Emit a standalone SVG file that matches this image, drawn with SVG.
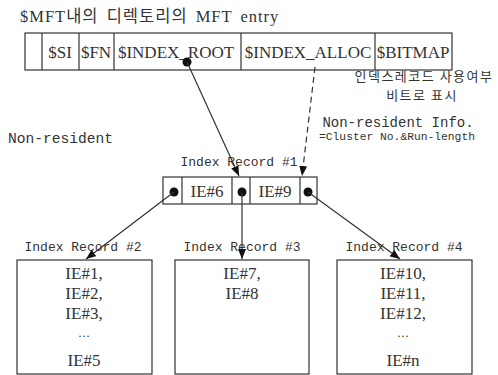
<svg xmlns="http://www.w3.org/2000/svg" width="498" height="375" viewBox="0 0 498 375">
<style>
.box{fill:#fff;stroke:#333;stroke-width:1.2}
.ln{stroke:#333;stroke-width:1.2;fill:none}
.dash{stroke-dasharray:6 4}
.serif{font-family:"Liberation Serif","Noto Sans CJK KR",serif;fill:#333}
.mono{font-family:"Liberation Mono","Noto Sans CJK KR",monospace;fill:#333}
.kr{font-family:"Noto Sans CJK KR",sans-serif;fill:#333}
.dot{fill:#111}
</style>
<defs>
<marker id="ah" viewBox="0 0 10 8" refX="10" refY="4" markerWidth="10" markerHeight="8" markerUnits="userSpaceOnUse" orient="auto">
<path d="M0,0 L10,4 L0,8 Z" fill="#111"/>
</marker>
</defs>
<rect width="498" height="375" fill="#fff"/>
<text class="serif" x="20" y="22" font-size="16.5" letter-spacing="1" word-spacing="3">$MFT내의 디렉토리의 MFT entry</text>
<g id="mft-entry">
<rect class="box" x="25" y="33" width="427" height="37"/>
<line class="ln" x1="42" y1="33" x2="42" y2="70"/>
<line class="ln" x1="79" y1="33" x2="79" y2="70"/>
<line class="ln" x1="114" y1="33" x2="114" y2="70"/>
<line class="ln" x1="241" y1="33" x2="241" y2="70"/>
<line class="ln" x1="375" y1="33" x2="375" y2="70"/>
<g class="serif" font-size="17" text-anchor="middle">
<text x="60" y="58">$SI</text>
<text x="96" y="58">$FN</text>
<text x="176" y="58">$INDEX_ROOT</text>
<text x="308" y="58">$INDEX_ALLOC</text>
<text x="413" y="58">$BITMAP</text>
</g>
<circle class="dot" cx="187" cy="62" r="4.5"/>
</g>
<g id="bitmap-note" class="kr" font-size="13" letter-spacing="1.5" text-anchor="middle">
<text x="424" y="81">인덱스레코드 사용여부</text>
<text x="422" y="100">비트로 표시</text>
</g>
<g id="nonres-info" class="mono" text-anchor="middle">
<text x="398" y="127" font-size="14">Non-resident Info.</text>
<text x="397" y="140" font-size="11.3">=Cluster No.&amp;Run-length</text>
</g>
<text id="nonres" class="mono" x="8" y="143" font-size="14.6">Non-resident</text>
<g id="index-record-1">
<text class="mono" x="239" y="166" font-size="13" text-anchor="middle">Index Record #1</text>
<rect class="box" x="163" y="177" width="154" height="27"/>
<line class="ln" x1="182" y1="177" x2="182" y2="204"/>
<line class="ln" x1="232" y1="177" x2="232" y2="204"/>
<line class="ln" x1="250" y1="177" x2="250" y2="204"/>
<line class="ln" x1="300" y1="177" x2="300" y2="204"/>
<g class="serif" font-size="17" text-anchor="middle">
<text x="207" y="197">IE#6</text>
<text x="275" y="197">IE#9</text>
</g>
<circle class="dot" cx="174" cy="192" r="4.5"/>
<circle class="dot" cx="242" cy="192" r="4.5"/>
<circle class="dot" cx="308" cy="192" r="4.5"/>
</g>
<g id="index-record-2">
<text class="mono" x="83" y="251" font-size="13" text-anchor="middle">Index Record #2</text>
<rect class="box" x="17" y="260" width="135" height="114"/>
<g class="serif" font-size="17" text-anchor="middle">
<text x="84" y="279">IE#1,</text>
<text x="84" y="299">IE#2,</text>
<text x="84" y="319">IE#3,</text>
<text x="84" y="337" font-size="12">…</text>
<text x="84" y="366">IE#5</text>
</g>
</g>
<g id="index-record-3">
<text class="mono" x="242" y="251" font-size="13" text-anchor="middle">Index Record #3</text>
<rect class="box" x="175" y="260" width="134" height="114"/>
<g class="serif" font-size="17" text-anchor="middle">
<text x="242" y="279">IE#7,</text>
<text x="242" y="299">IE#8</text>
</g>
</g>
<g id="index-record-4">
<text class="mono" x="404" y="251" font-size="13" text-anchor="middle">Index Record #4</text>
<rect class="box" x="337" y="260" width="135" height="114"/>
<g class="serif" font-size="17" text-anchor="middle">
<text x="403" y="279">IE#10,</text>
<text x="403" y="299">IE#11,</text>
<text x="403" y="319">IE#12,</text>
<text x="403" y="337" font-size="12">…</text>
<text x="403" y="366">IE#n</text>
</g>
</g>
<g id="connectors">
<line class="ln" x1="187" y1="62" x2="239" y2="176" marker-end="url(#ah)"/>
<line class="ln dash" x1="315" y1="67" x2="302" y2="176" marker-end="url(#ah)"/>
<line class="ln" x1="174" y1="192" x2="86" y2="259" marker-end="url(#ah)"/>
<line class="ln" x1="242" y1="192" x2="242" y2="259" marker-end="url(#ah)"/>
<line class="ln" x1="308" y1="192" x2="400" y2="259" marker-end="url(#ah)"/>
</g>
</svg>
